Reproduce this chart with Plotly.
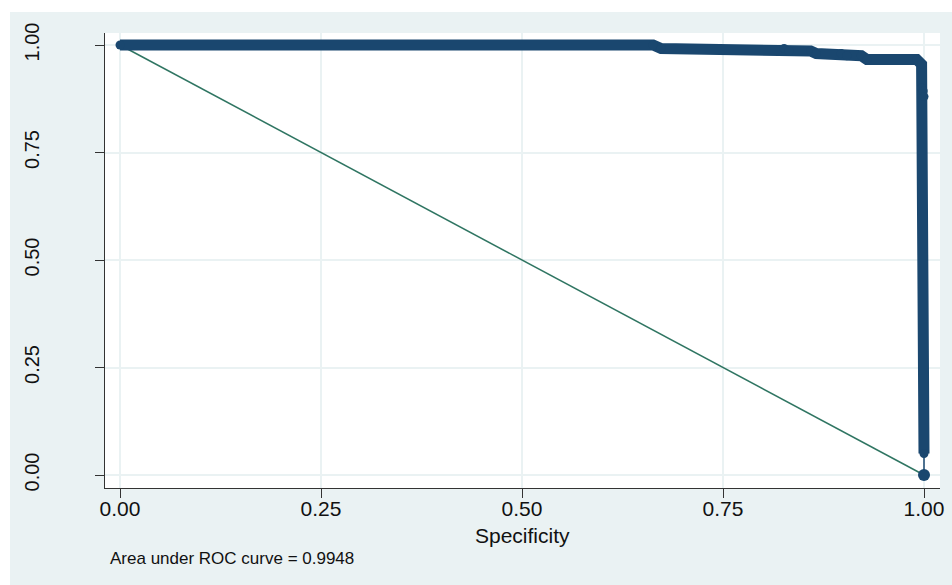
import plotly.graph_objects as go

# ROC curve points (specificity on x, sensitivity on y)
specificity = [0.0, 0.663, 0.673, 0.826, 0.832, 0.859, 0.866, 0.897, 0.904, 0.922,
               0.929, 0.991, 0.997, 0.997, 0.999, 1.0, 1.0, 1.0]
sensitivity = [1.0, 1.0, 0.992, 0.992, 0.986, 0.986, 0.980, 0.980, 0.975, 0.975,
               0.966, 0.966, 0.955, 0.900, 0.893, 0.880, 0.050, 0.0]

# Chance reference line
ref_x = [0.0, 1.0]
ref_y = [1.0, 0.0]

tick_vals = [0.0, 0.25, 0.5, 0.75, 1.0]
tick_text = ["0.00", "0.25", "0.50", "0.75", "1.00"]
auc_label = "Area under ROC curve = 0.9948"

BG = "#EAF2F3"
NAVY = "#1A476F"
GREEN = "#2F7562"
FONT = "Liberation Sans, Arial, sans-serif"

fig = go.Figure()

fig.add_trace(go.Scatter(
    x=ref_x, y=ref_y, mode="lines",
    line=dict(color=GREEN, width=1.5),
    hoverinfo="skip", showlegend=False,
))

# Thick band of the curve down to the last positive-sensitivity point
fig.add_trace(go.Scatter(
    x=specificity[:-1], y=sensitivity[:-1], mode="lines+markers",
    line=dict(color=NAVY, width=11),
    marker=dict(color=NAVY, size=9),
    showlegend=False,
))

# Final thin step to the origin point
fig.add_trace(go.Scatter(
    x=specificity[-2:], y=sensitivity[-2:], mode="lines",
    line=dict(color=NAVY, width=1.5),
    showlegend=False,
))
fig.add_trace(go.Scatter(
    x=specificity[-1:], y=sensitivity[-1:], mode="markers",
    marker=dict(color=NAVY, size=12, line=dict(width=0)),
    showlegend=False,
))

W, H = 952, 585
L, R, T, B = 105, 12, 33, 97
PW, PH = W - L - R, H - T - B

fig.update_layout(
    width=W, height=H,
    margin=dict(l=L, r=R, t=T, b=B, autoexpand=False),
    paper_bgcolor=BG,
    plot_bgcolor="white",
    font=dict(family=FONT, color="#111111"),
    xaxis=dict(
        range=[-0.0187, 1.0199],
        tickvals=tick_vals, ticktext=tick_text,
        ticks="outside", ticklen=9, tickwidth=1.2, tickcolor="#333333",
        showline=True, linecolor="#333333", linewidth=1.2,
        showgrid=True, gridcolor=BG, gridwidth=1.5,
        zeroline=False, automargin=False,
        tickfont=dict(size=21),
        ticklabelstandoff=-7,
    ),
    yaxis=dict(
        range=[-0.0302, 1.0279],
        tickvals=tick_vals, ticktext=tick_text,
        ticks="outside", ticklen=9, tickwidth=1.2, tickcolor="#333333",
        showline=True, linecolor="#333333", linewidth=1.2,
        showgrid=True, gridcolor=BG, gridwidth=1.5,
        zeroline=False, automargin=False,
        tickangle=-90,
        tickfont=dict(size=20),
        ticklabelstandoff=48,
    ),
    annotations=[
        dict(text="Specificity", xref="paper", yref="paper",
             x=0.5, y=-(535 - (H - B)) / PH,
             xanchor="center", yanchor="middle", showarrow=False,
             font=dict(size=21, family=FONT, color="#111111")),
        dict(text=auc_label, xref="paper", yref="paper",
             x=(108 - L) / PW, y=-(558 - (H - B)) / PH,
             xanchor="left", yanchor="middle", showarrow=False,
             font=dict(size=17, family=FONT, color="#111111")),
    ],
    shapes=[
        # white outer strips along the top and left edges
        dict(type="rect", xref="paper", yref="paper",
             x0=-L / PW - 0.01, x1=(W - L) / PW + 0.01,
             y0=(H - B - 12) / PH, y1=(H - B + 1) / PH,
             fillcolor="white", line=dict(width=0), layer="below"),
        dict(type="rect", xref="paper", yref="paper",
             x0=-L / PW - 0.01, x1=-(L - 10) / PW,
             y0=-0.5, y1=1.5,
             fillcolor="white", line=dict(width=0), layer="below"),
    ],
)

fig.write_html("out.html")
